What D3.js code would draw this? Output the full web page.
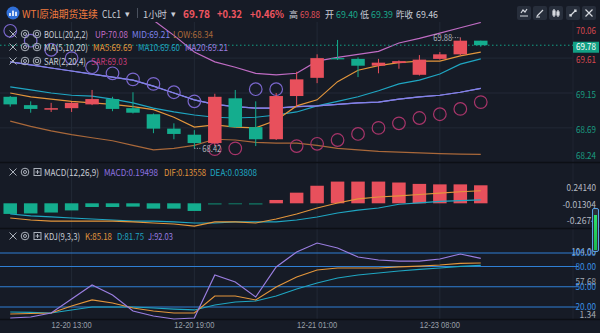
<!DOCTYPE html>
<html><head><meta charset="utf-8">
<script src="https://cdn.jsdelivr.net/npm/d3@7"></script>
<style>
html,body{margin:0;padding:0;background:#161b26;}
svg{display:block;font-family:"Liberation Sans Narrow","Noto Sans CJK SC","Noto Sans",sans-serif;}
</style></head><body>
<svg id="c" width="600" height="333"></svg>
<script>
// hourly bars, WTI continuous contract
const times = ["12-20 10:00","12-20 11:00","12-20 12:00","12-20 13:00","12-20 14:00","12-20 15:00",
  "12-20 16:00","12-20 17:00","12-20 18:00","12-20 19:00","12-20 20:00","12-20 21:00","12-20 22:00",
  "12-20 23:00","12-21 00:00","12-21 01:00","12-21 02:00","12-21 03:00","12-21 04:00","12-21 05:00",
  "12-23 07:00","12-23 08:00","12-23 09:00","12-23 10:00"];
const xTicks = ["12-20 13:00","12-20 19:00","12-21 01:00","12-23 08:00"];

const open  = [69.10,68.99,68.93,68.95,69.00,69.07,68.95,68.87,68.68,68.60,68.49,69.08,68.70,68.54,69.11,69.35,69.61,69.60,69.51,69.545,69.39,69.60,69.66,69.84];
const high  = [69.11,69.04,69.02,69.03,69.19,69.10,69.16,68.88,68.75,68.66,69.14,69.19,69.04,69.15,69.43,69.66,69.85,69.62,69.60,69.58,69.65,69.69,69.88,69.84];
const low   = [68.97,68.89,68.90,68.90,68.99,68.91,68.88,68.62,68.54,68.42,68.45,68.69,68.45,68.53,68.97,69.28,69.585,69.36,69.41,69.47,69.38,69.59,69.65,69.76];
const close = [69.00,68.94,68.95,69.02,69.07,68.94,68.89,68.68,68.61,68.49,69.10,68.70,68.54,69.11,69.33,69.61,69.60,69.51,69.55,69.57,69.59,69.66,69.84,69.78];

const bollUp  = [70.34,70.32,70.31,70.28,70.24,70.21,70.18,70.11,69.91,69.69,69.56,69.49,69.41,69.39,69.41,69.57,69.62,69.66,69.70,69.81,69.87,69.94,70.01,70.08];
const bollMid = [69.56,69.52,69.48,69.44,69.40,69.36,69.32,69.24,69.15,69.06,69.00,68.97,68.95,68.95,68.97,68.98,69.00,69.02,69.03,69.07,69.10,69.12,69.16,69.21];
const bollLow = [68.78,68.71,68.65,68.60,68.56,68.52,68.46,68.40,68.42,68.46,68.54,68.53,68.50,68.49,68.49,68.46,68.42,68.40,68.38,68.37,68.36,68.35,68.345,68.34];
const ma5  = [69.15,69.10,69.07,69.04,69.02,69.00,68.97,68.93,68.83,68.70,68.73,68.70,68.69,68.79,68.98,69.06,69.30,69.45,69.51,69.55,69.57,69.57,69.64,69.69];
const ma10 = [69.23,69.19,69.15,69.12,69.11,69.07,69.02,68.95,68.90,68.86,68.83,68.82,68.83,68.86,68.90,68.98,69.04,69.10,69.18,69.27,69.32,69.40,69.53,69.60];
const ma20 = bollMid;
const sar  = [69.97,69.84,69.72,69.61,69.49,69.41,69.33,69.27,69.16,69.04,68.41,68.42,69.20,69.20,68.45,68.48,68.53,68.61,68.69,68.75,68.82,68.87,68.94,69.03];

const macdHist = [-0.115,-0.11,-0.10,-0.077,-0.04,-0.04,-0.036,-0.058,-0.058,-0.083,-0.013,-0.01,-0.013,0.036,0.115,0.19,0.235,0.235,0.235,0.225,0.21,0.205,0.205,0.19498];
const dif = [-0.159,-0.181,-0.192,-0.192,-0.192,-0.192,-0.202,-0.213,-0.224,-0.246,-0.202,-0.202,-0.213,-0.170,-0.116,-0.051,0.003,0.047,0.068,0.08,0.095,0.11,0.125,0.13558];
const dea = [-0.116,-0.137,-0.148,-0.159,-0.170,-0.181,-0.192,-0.192,-0.202,-0.213,-0.213,-0.202,-0.202,-0.202,-0.181,-0.148,-0.105,-0.073,-0.051,-0.01,0.005,0.02,0.03,0.03808];

const kK = [9.6,10.4,11.1,21.5,30.4,25.9,18.5,14.1,11.1,11.1,36.3,36.3,30.4,49.6,64.4,74.8,77.8,77.8,77.8,79.3,80.7,82.2,84.5,85.18];
const kD = [12.6,11.9,11.1,15.6,20.0,20.0,20.0,18.5,17.0,15.6,23.0,27.4,28.9,36.3,46.7,55.6,63.0,67.4,70.4,73.3,75.6,77.8,80.3,81.75];
const kJ = [3.7,5.2,11.1,31.9,52.6,37.8,14.1,6.7,2.2,3.7,67.4,57.0,34.8,79.3,101.5,114.8,107.4,94.1,89.6,88.1,88.1,91.1,98.5,92.03];

const priceTicks = [70.06,69.61,69.15,68.69,68.24];
const prevClose = 69.46, lastPrice = 69.78;
const macdTicks = [0.24140,-0.01304,-0.2674];
const macdTickLabels = ["0.24140","-0.01304","-0.2674"];
const kdjTicks = [104,100,80,57.68,50,20,1.34];
const kdjLevels = [100,80,50,20];

const C = {bg:"#161b26", up:"#e8505c", down:"#14ad8e", text:"#c9cdd6", grid:"#222936", sep:"#0c0f15",
  bu:"#c06cc4", bm:"#7f83ea", bl:"#a9683a", m5:"#e3963c", m10:"#1fa6c2", m20:"#9a7ee0",
  sarHi:"#7a66cc", sarLo:"#a8356a", lvl:"#2f7fd4"};

const svg = d3.select("#c");
const PR = 573;
const x = d3.scaleBand().domain(times).range([0, 491]).paddingInner(0.34).paddingOuter(0.17);
const cx = t => x(t) + x.bandwidth()/2;
const yP = d3.scaleLinear().domain([68.24,70.06]).range([162,24]);
const yM = d3.scaleLinear().domain([-0.2674,0.2414]).range([228,181]);
const yK = d3.scaleLinear().domain([1.34,104]).range([319.6,250.3]);

// text helper: sizes a label to span the given width, never below minSize
// (below that it keeps minSize and is condensed to the width instead)
function txt(g, xx, y, str, w, opt={}){
  const base = opt.size||10.5, minSize = opt.min||9;
  const t = g.append("text").attr("x",xx).attr("y",y).text(str)
    .attr("font-size",base).attr("fill",opt.fill||C.text);
  if(opt.anchor) t.attr("text-anchor",opt.anchor);
  if(opt.bold) t.attr("font-weight","bold");
  if(opt.dy) t.attr("dy",opt.dy);
  if(w){
    const nat = t.node().getComputedTextLength();
    if(nat>0){
      const s = Math.min(base*1.15, base*w/nat);
      if(s >= minSize) t.attr("font-size", s);
      else t.attr("font-size", minSize).attr("textLength", w).attr("lengthAdjust","spacingAndGlyphs");
    }
  }
  return t;
}

svg.append("rect").attr("width",600).attr("height",333).attr("fill",C.bg);

// grid
const grid = svg.append("g");
grid.selectAll(".hg").data(priceTicks.slice(1,4)).join("line")
  .attr("x1",0).attr("x2",PR).attr("y1",d=>yP(d)).attr("y2",d=>yP(d)).attr("stroke",C.grid);
grid.selectAll(".vg").data(xTicks).join("line")
  .attr("x1",d=>cx(d)).attr("x2",d=>cx(d)).attr("y1",22).attr("y2",319).attr("stroke",C.grid);
grid.append("line").attr("x1",PR).attr("x2",PR).attr("y1",22).attr("y2",319).attr("stroke","#1f2531");
[162.5,228.5,319.5].forEach(y=>grid.append("line").attr("x1",0).attr("x2",600).attr("y1",y).attr("y2",y).attr("stroke",C.sep).attr("stroke-width",1.5));

// ---------- price panel ----------
svg.append("clipPath").attr("id","pc").append("rect").attr("x",0).attr("y",22).attr("width",PR).attr("height",140);
const pg = svg.append("g").attr("clip-path","url(#pc)");
const lineP = d3.line().x((d,i)=>cx(times[i])).y(d=>yP(d));
[[bollLow,C.bl],[ma10,C.m10],[ma20,C.m20],[bollMid,C.bm],[ma5,C.m5],[bollUp,C.bu]].forEach(([arr,col])=>{
  pg.append("path").attr("d",lineP(arr)).attr("fill","none").attr("stroke",col).attr("stroke-width",1.2);
});
pg.selectAll(".sar").data(sar).join("circle")
  .attr("cx",(d,i)=>cx(times[i])).attr("cy",d=>yP(d)).attr("r",6.3)
  .attr("fill","none").attr("stroke-width",1.2)
  .attr("stroke",(d,i)=>d>close[i]?C.sarHi:C.sarLo);

// current price line
svg.append("line").attr("x1",0).attr("x2",PR).attr("y1",yP(lastPrice)).attr("y2",yP(lastPrice))
  .attr("stroke","#14a085").attr("stroke-dasharray","1.5,2.5");

const cg = svg.append("g");
times.forEach((t,i)=>{
  const col = close[i]>=open[i]?C.up:C.down;
  cg.append("line").attr("x1",cx(t)).attr("x2",cx(t)).attr("y1",yP(high[i])).attr("y2",yP(low[i])).attr("stroke",col);
  const top = yP(Math.max(open[i],close[i])), bot = yP(Math.min(open[i],close[i]));
  cg.append("rect").attr("x",x(t)).attr("width",x.bandwidth()).attr("y",top).attr("height",Math.max(1.2,bot-top)).attr("fill",col);
});

// extreme labels
const iH = d3.maxIndex(high), iL = d3.minIndex(low);
const lab = svg.append("g");
lab.append("line").attr("x1",cx(times[iH])-8).attr("x2",cx(times[iH])).attr("y1",yP(high[iH])).attr("y2",yP(high[iH]))
  .attr("stroke","#aeb3bd").attr("stroke-dasharray","1,1.5");
txt(lab, cx(times[iH])-8, yP(high[iH])+3, high[iH].toFixed(2), 19, {anchor:"end", fill:"#aeb3bd", min:8.5});
lab.append("line").attr("x1",cx(times[iL])).attr("x2",cx(times[iL])+7).attr("y1",yP(low[iL])).attr("y2",yP(low[iL]))
  .attr("stroke","#aeb3bd").attr("stroke-dasharray","1,1.5");
txt(lab, cx(times[iL])+8, yP(low[iL])+4, low[iL].toFixed(2), 19, {fill:"#aeb3bd", min:8.5});

// price axis
const pa = svg.append("g");
priceTicks.forEach(v=>{
  const y = Math.min(156, Math.max(31, yP(v)+2));
  txt(pa, 596, y, v.toFixed(2), 20, {anchor:"end", dy:"0.35em", min:8.6, fill:v>prevClose?"#d9484f":"#1a9e82"});
});
svg.append("rect").attr("x",573).attr("y",yP(lastPrice)-3.5).attr("width",26).attr("height",11).attr("fill","#13a084");
txt(svg, 596, yP(lastPrice)+2, lastPrice.toFixed(2), 20, {anchor:"end", dy:"0.35em", min:8.6, fill:"#ffffff"});

// ---------- MACD panel ----------
const mg = svg.append("g");
times.forEach((t,i)=>{
  const v = macdHist[i];
  const y0 = yM(0), y1 = yM(v);
  mg.append("rect").attr("x",x(t)).attr("width",x.bandwidth())
    .attr("y",Math.min(y0,y1)).attr("height",Math.max(1,Math.abs(y1-y0)))
    .attr("fill",v>=0?C.up:(Math.abs(v)<0.02?"#117f69":C.down));
});
const lineM = d3.line().x((d,i)=>cx(times[i])).y(d=>yM(d));
mg.append("path").attr("d",lineM(dea)).attr("fill","none").attr("stroke",C.m10).attr("stroke-width",1.2);
mg.append("path").attr("d",lineM(dif)).attr("fill","none").attr("stroke",C.m5).attr("stroke-width",1.2);
macdTicks.forEach((v,i)=>{
  const y = Math.min(221, Math.max(188, yM(v)));
  txt(svg, 596, y, macdTickLabels[i], macdTickLabels[i].length*4.2, {anchor:"end", dy:"0.35em", min:8.6, fill:"#b4b9c2"});
});

// ---------- KDJ panel ----------
const kg = svg.append("g");
kdjLevels.forEach(v=>{
  kg.append("line").attr("x1",0).attr("x2",578).attr("y1",yK(v)).attr("y2",yK(v)).attr("stroke",C.lvl).attr("stroke-width",1.2);
});
const lineK = d3.line().x((d,i)=>cx(times[i])).y(d=>yK(d));
kg.append("path").attr("d",lineK(kD)).attr("fill","none").attr("stroke",C.m10).attr("stroke-width",1.2);
kg.append("path").attr("d",lineK(kK)).attr("fill","none").attr("stroke",C.m5).attr("stroke-width",1.2);
kg.append("path").attr("d",lineK(kJ)).attr("fill","none").attr("stroke",C.m20).attr("stroke-width",1.2);
kdjTicks.forEach(v=>{
  const y = Math.min(315, Math.max(252, yK(v)));
  const s = v.toFixed(2);
  txt(kg, 596, y, s, s.length*4.1, {anchor:"end", dy:"0.35em", min:8.6, fill:kdjLevels.includes(v)?"#3a90e4":"#a5abb5"});
});

// time axis
const xa = d3.axisBottom(x).tickValues(xTicks).tickSize(0).tickPadding(0);
const xg = svg.append("g").attr("transform","translate(0,322)").call(xa);
xg.select(".domain").remove();
xg.selectAll("text").attr("fill","#9aa0aa").attr("font-size",9).attr("dy","0.71em")
  .attr("font-family",null)
  .attr("textLength",40).attr("lengthAdjust","spacingAndGlyphs");

// ---------- header ----------
const hd = svg.append("g");
hd.append("circle").attr("cx",13).attr("cy",13).attr("r",6.5).attr("fill","#2f6fd8");
[[10,2.5],[13,4.5],[16,3.5]].forEach(([bx,h])=>hd.append("rect").attr("x",bx-0.8).attr("y",16-h*1.2).attr("width",1.6).attr("height",h*1.2).attr("fill","#fff"));
const HY = 17.5;
txt(hd, 22, HY, "WTI原油期货连续", 76, {size:13, fill:"#f07a3e"});
txt(hd, 102, HY, "CLc1", 19, {size:12, min:10.5});
txt(hd, 125, HY-1, "▾", 5, {size:8, min:6});
hd.append("line").attr("x1",137.5).attr("x2",137.5).attr("y1",8).attr("y2",18).attr("stroke","#4a515e");
txt(hd, 143, HY, "1小时", 24, {size:12});
txt(hd, 171, HY-1, "▾", 5, {size:8, min:6});
txt(hd, 183, HY, "69.78", 27, {size:12.5, bold:true, min:11, fill:"#ef5560"});
txt(hd, 217, HY, "+0.32", 25, {size:12.5, bold:true, min:11, fill:"#ef5560"});
txt(hd, 250, HY, "+0.46%", 34, {size:12.5, bold:true, min:10.5, fill:"#ef5560"});
txt(hd, 289, HY, "高", 9, {size:10});
txt(hd, 300, HY, "69.88", 20, {size:10, fill:"#e0505a"});
txt(hd, 325, HY, "开", 9, {size:10});
txt(hd, 336, HY, "69.40", 22, {size:10, fill:"#1aa88a"});
txt(hd, 360, HY, "低", 9, {size:10});
txt(hd, 371, HY, "69.39", 22, {size:10, fill:"#1aa88a"});
txt(hd, 396, HY, "昨收", 17, {size:10});
txt(hd, 416, HY, "69.46", 22, {size:10});

[517,533,549,566,582].forEach((bx,k)=>{
  hd.append("rect").attr("x",bx).attr("y",6).attr("width",14).attr("height",14).attr("rx",2).attr("fill","#272e3b");
  const g = hd.append("g").attr("stroke","#d6d9df").attr("stroke-width",1.2).attr("fill","none");
  const m = bx+7;
  if(k===0){g.append("path").attr("d",`M${m-4},16 H${m+4} M${m-3},13 l2,-3 l2,2 l2,-3`);}
  if(k===1){g.append("path").attr("d",`M${m-3},16 L${m+3},10 M${m-4},17 H${m}`);}
  if(k===2){g.append("path").attr("d",`M${m-2},9 V17 M${m+2},10 V17`);g.append("rect").attr("x",m-3).attr("y",11).attr("width",2).attr("height",4).attr("fill","#d6d9df");g.append("rect").attr("x",m+1).attr("y",12).attr("width",2).attr("height",3).attr("fill","#d6d9df");}
  if(k===3){g.append("path").attr("d",`M${m-3},16 L${m+3},10 M${m+1},10 H${m+3} V12 M${m-3},14 V16 H${m-1}`);}
  if(k===4){g.append("path").attr("d",`M${m-3.5},9.5 L${m+3.5},16.5 M${m+3.5},9.5 L${m-3.5},16.5`);}
});

// ---------- indicator legends ----------
function icons(y, third){
  const g = svg.append("g").attr("stroke","#aab0ba").attr("fill","none").attr("stroke-width",1);
  g.append("path").attr("d",`M9.5,${y-3.5} L16.5,${y+3.5} M16.5,${y-3.5} L9.5,${y+3.5}`);
  g.append("circle").attr("cx",25).attr("cy",y).attr("r",3.8);
  g.append("circle").attr("cx",25).attr("cy",y).attr("r",1.5);
  if(third==="gear"){
    g.append("circle").attr("cx",37).attr("cy",y).attr("r",3.8);
    g.append("circle").attr("cx",37).attr("cy",y).attr("r",1.8);
  } else {
    g.append("rect").attr("x",34).attr("y",y-3.5).attr("width",7).attr("height",7);
    g.append("path").attr("d",`M37.5,${y-2} V${y+2} M35.5,${y} H39.5`);
  }
}
function legend(y, items){
  items.forEach(([xx,w,col,str])=>txt(svg, xx, y+3.7, str, w, {fill:col, min:9.3}));
}
icons(34,"gear");
legend(34,[[44,44,C.text,"BOLL(20,2,2)"],[95,33,C.bu,"UP:"+bollUp[23].toFixed(2)],[132,38,C.bm,"MID:"+bollMid[23].toFixed(2)],[173,40,C.bl,"LOW:"+bollLow[23].toFixed(2)]]);
icons(47,"gear");
legend(47,[[44,44,C.text,"MA(5,10,20)"],[93,39,C.m5,"MA5:"+ma5[23].toFixed(2)],[138,42,C.m10,"MA10:"+ma10[23].toFixed(2)],[185,43,C.m20,"MA20:"+ma20[23].toFixed(2)]]);
icons(61,"gear");
legend(61,[[44,42,C.text,"SAR(2,20,4)"],[91,36,"#c93c7b","SAR:"+sar[23].toFixed(2)]]);
icons(172,"box");
legend(172,[[44,55,C.text,"MACD(12,26,9)"],[104,54,"#8e72e0","MACD:"+macdHist[23].toFixed(5)],[164,42,C.m5,"DIF:"+dif[23].toFixed(5)],[210,47,C.m10,"DEA:"+dea[23].toFixed(5)]]);
icons(236,"box");
legend(236,[[44,36,C.text,"KDJ(9,3,3)"],[85,27,C.m5,"K:"+kK[23].toFixed(2)],[117,27,C.m10,"D:"+kD[23].toFixed(2)],[148,25,C.m20,"J:"+kJ[23].toFixed(2)]]);

// side slider
const grad = svg.append("defs").append("linearGradient").attr("id","sl").attr("x1",0).attr("x2",0).attr("y1",0).attr("y2",1);
grad.append("stop").attr("offset","0").attr("stop-color","#2ee06a");
grad.append("stop").attr("offset","1").attr("stop-color","#1bb84e");
svg.append("rect").attr("x",592.5).attr("y",208.5).attr("width",6).attr("height",43).attr("rx",1.5).attr("fill","#2a2f3a").attr("stroke","#5aa2e6");
svg.append("rect").attr("x",594).attr("y",215).attr("width",3).attr("height",35).attr("fill","url(#sl)");
</script>
</body></html>
